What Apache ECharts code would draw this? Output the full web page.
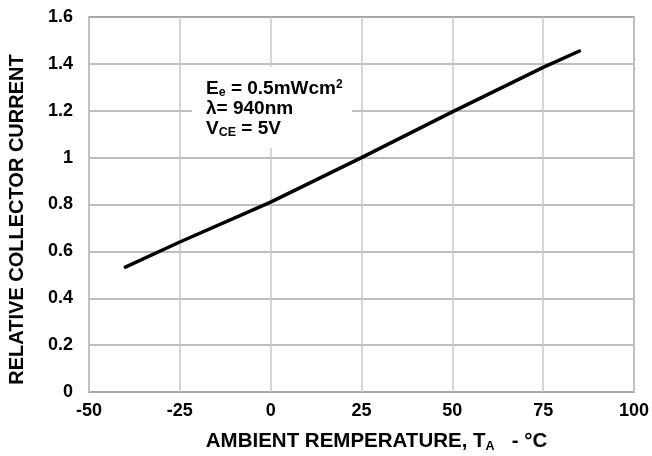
<!DOCTYPE html>
<html>
<head>
<meta charset="utf-8">
<script src="https://cdn.jsdelivr.net/npm/echarts@6/dist/echarts.min.js"></script>
<style>
html,body{margin:0;padding:0;background:#fff;}
#c{width:652px;height:456px;}
</style>
</head>
<body>
<div id="c"></div>
<script>
const temperatures = [-40, -25, 0, 25, 50, 75, 85];
const relCurrent = [0.533, 0.64, 0.81, 1.0, 1.195, 1.385, 1.455];
const xTicks = [-50, -25, 0, 25, 50, 75, 100];
const yTicks = [0, 0.2, 0.4, 0.6, 0.8, 1, 1.2, 1.4, 1.6];

const FONT = '"Liberation Sans", Arial, sans-serif';
const chart = echarts.init(document.getElementById('c'), null, {renderer: 'canvas'});

const seriesData = temperatures.map((t, i) => [t, relCurrent[i]]);

chart.setOption({
  animation: false,
  backgroundColor: '#ffffff',
  grid: {left: 89, right: 18, top: 17, bottom: 64, show: true, borderColor: '#8c8c8c', borderWidth: 1.5,
    containLabel: false, outerBoundsMode: 'none'},
  xAxis: {
    type: 'value', min: xTicks[0], max: xTicks[xTicks.length - 1], interval: 25,
    axisLine: {show: false}, axisTick: {show: false},
    splitLine: {show: true, lineStyle: {color: '#c8c8c8', width: 1.5}},
    axisLabel: {color: '#000', fontFamily: FONT, fontWeight: 'bold', fontSize: 18, margin: 10},
    name: '{t|AMBIENT REMPERATURE, T}{s|A}{t|   - °C}',
    nameLocation: 'middle', nameGap: 37,
    nameTextStyle: {
      padding: [0, 0, 0, 30],
      rich: {
        t: {color: '#000', fontFamily: FONT, fontWeight: 'bold', fontSize: 20.5, lineHeight: 24, verticalAlign: 'middle'},
        s: {color: '#000', fontFamily: FONT, fontWeight: 'bold', fontSize: 12.5, lineHeight: 11, verticalAlign: 'bottom'}
      }
    }
  },
  yAxis: {
    type: 'value', min: 0, max: 1.6, interval: 0.2,
    axisLine: {show: false}, axisTick: {show: false},
    splitLine: {show: true, lineStyle: {color: '#a8a8a8', width: 1.5}},
    axisLabel: {color: '#000', fontFamily: FONT, fontWeight: 'bold', fontSize: 18, margin: 16,
      formatter: v => String(Math.round(v * 10) / 10)},
    name: 'RELATIVE COLLECTOR CURRENT',
    nameLocation: 'middle', nameGap: 62,
    nameTextStyle: {color: '#000', fontFamily: FONT, fontWeight: 'bold', fontSize: 20, padding: [0, 30, 0, 0]}
  },
  series: [{
    type: 'line', data: seriesData, showSymbol: false, symbol: 'none',
    lineStyle: {color: '#000', width: 3.5, cap: 'round'}, smooth: false, z: 3
  }],
  graphic: [
    {type: 'rect', left: 192, top: 67, shape: {width: 160, height: 81}, style: {fill: '#ffffff'}, z: 10},
    {type: 'text', left: 206, top: 79, z: 11,
      style: {
        text: '{m|E}{s|e}{m| = 0.5mWcm}{u|2}\n{m|λ= 940nm}\n{m|V}{s|CE}{m| = 5V}',
        rich: {
          m: {fill: '#000', fontFamily: FONT, fontWeight: 'bold', fontSize: 19, lineHeight: 20, verticalAlign: 'middle'},
          s: {fill: '#000', fontFamily: FONT, fontWeight: 'bold', fontSize: 12.5, lineHeight: 8, verticalAlign: 'bottom'},
          u: {fill: '#000', fontFamily: FONT, fontWeight: 'bold', fontSize: 12, lineHeight: 9, verticalAlign: 'top'}
        }
      }
    }
  ]
});
</script>
</body>
</html>
